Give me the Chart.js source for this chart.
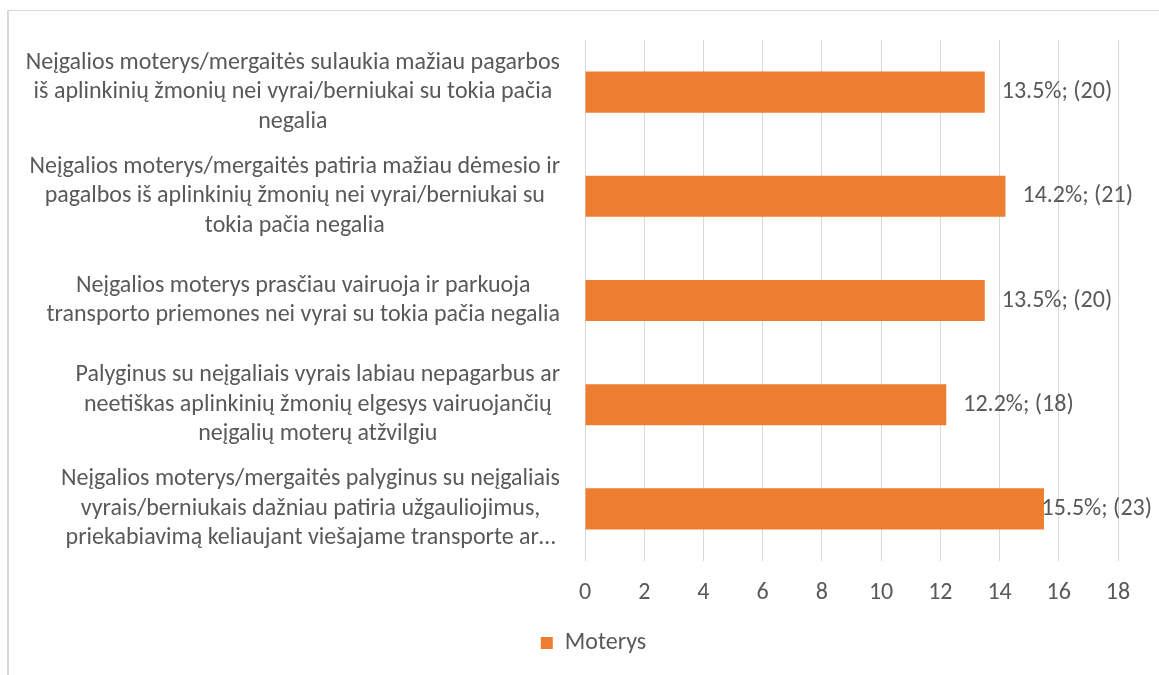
<!DOCTYPE html>
<html>
<head>
<meta charset="utf-8">
<script src="https://cdn.jsdelivr.net/npm/chart.js@4.4.0/dist/chart.umd.min.js"></script>
<style>
  html, body { margin: 0; padding: 0; background: #fff; overflow: hidden; }
  #frame {
    position: absolute; left: 7px; top: 10px;
    width: 1162px; height: 664px;
    border-left: 2px solid #d9d9d9; border-top: 1px solid #d9d9d9;
  }
</style>
</head>
<body>
<div id="frame"><canvas id="chart"></canvas></div>
<script>
// Category labels, wrapped like in the original
const categories = [
    ['Neįgalios moterys/mergaitės sulaukia mažiau pagarbos', 'iš aplinkinių žmonių nei vyrai/berniukai su tokia pačia', 'negalia'],
    ['Neįgalios moterys/mergaitės patiria mažiau dėmesio ir', 'pagalbos iš aplinkinių žmonių nei vyrai/berniukai su', 'tokia pačia negalia'],
    ['Neįgalios moterys prasčiau vairuoja ir parkuoja', 'transporto priemones nei vyrai su tokia pačia negalia'],
    ['Palyginus su neįgaliais vyrais labiau nepagarbus ar', 'neetiškas aplinkinių žmonių elgesys vairuojančių', 'neįgalių moterų atžvilgiu'],
    ['Neįgalios moterys/mergaitės palyginus su neįgaliais', 'vyrais/berniukais dažniau patiria užgauliojimus,', 'priekabiavimą keliaujant viešajame transporte ar…']
];
const percents = [13.5, 14.2, 13.5, 12.2, 15.5];
const counts = [20, 21, 20, 18, 23];
const seriesName = 'Moterys';

const FONT = 'Carlito, Calibri, Lato, sans-serif';
const TEXT = '#595959';
const SIZE = 24;

// draws the wrapped category labels, right-aligned block, centred lines
const categoryLabels = {
    id: 'categoryLabels',
    afterDraw(chart) {
        const ctx = chart.ctx;
        const y = chart.scales.y;
        const right = 551;
        const lh = 29.5;
        ctx.save();
        ctx.font = SIZE + 'px ' + FONT;
        ctx.fillStyle = TEXT;
        ctx.textAlign = 'center';
        ctx.textBaseline = 'middle';
        categories.forEach((lines, i) => {
            const cy = y.getPixelForTick(i);
            const w = Math.max(...lines.map(l => ctx.measureText(l).width));
            const cx = right - w / 2;
            lines.forEach((l, j) => {
                ctx.fillText(l, cx, cy + (j - (lines.length - 1) / 2) * lh);
            });
        });
        ctx.restore();
    }
};

// "13.5%; (20)" labels at the bar ends
const valueLabels = {
    id: 'valueLabels',
    afterDatasetsDraw(chart) {
        const ctx = chart.ctx;
        const meta = chart.getDatasetMeta(0);
        ctx.save();
        ctx.font = SIZE + 'px ' + FONT;
        ctx.fillStyle = TEXT;
        ctx.textAlign = 'left';
        ctx.textBaseline = 'middle';
        meta.data.forEach((bar, i) => {
            const txt = percents[i].toFixed(1) + '%; (' + counts[i] + ')';
            const w = ctx.measureText(txt).width;
            const x = Math.min(bar.x + 17, 1143 - w);
            ctx.fillText(txt, x, bar.y);
        });
        ctx.restore();
    }
};

new Chart(document.getElementById('chart'), {
    type: 'bar',
    data: {
        labels: categories,
        datasets: [{
            label: seriesName,
            data: percents,
            backgroundColor: '#ED7D31',
            borderWidth: 0,
            barPercentage: 0.394,
            categoryPercentage: 1
        }]
    },
    options: {
        indexAxis: 'y',
        responsive: true,
        maintainAspectRatio: false,
        animation: false,
        layout: { padding: { left: 60, top: 29, right: 53, bottom: 10 } },
        scales: {
            x: {
                min: 0,
                max: 18,
                ticks: { stepSize: 2, color: TEXT, font: { family: FONT, size: SIZE }, padding: 18 },
                grid: { color: '#d9d9d9', drawTicks: false },
                border: { display: false },
                afterFit(scale) { scale.height = 60; }
            },
            y: {
                ticks: { display: false },
                grid: { display: false, drawTicks: false },
                border: { display: false },
                afterFit(scale) { scale.width = 516; }
            }
        },
        plugins: {
            legend: {
                position: 'bottom',
                labels: {
                    color: TEXT,
                    font: { family: FONT, size: SIZE },
                    boxWidth: 12,
                    boxHeight: 12,
                    padding: 10
                }
            },
            tooltip: { enabled: false }
        }
    },
    plugins: [categoryLabels, valueLabels]
});
</script>
</body>
</html>
